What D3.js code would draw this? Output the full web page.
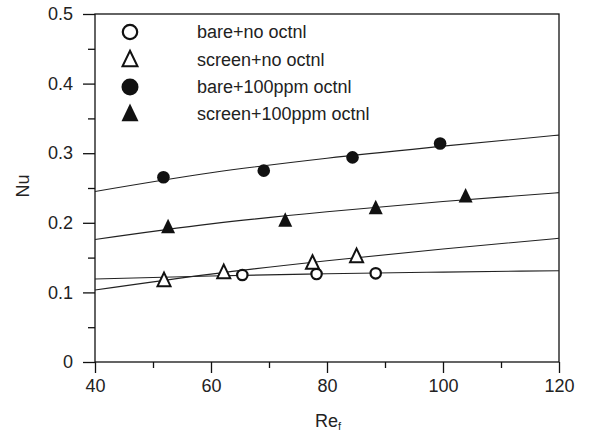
<!DOCTYPE html>
<html>
<head>
<meta charset="utf-8">
<script src="https://cdn.jsdelivr.net/npm/d3@7"></script>
<style>
  body { margin: 0; background: #fff; }
  svg text { font-family: "Liberation Sans", Arial, sans-serif; fill: #222; }
</style>
</head>
<body>
<svg id="chart" width="589" height="435"></svg>
<script>
// measured points
const bareNo = [[65.4, 0.125], [78.2, 0.1264], [88.4, 0.1274]];
const screenNo = [[51.9, 0.1168], [62.2, 0.1283], [77.5, 0.1418], [85.1, 0.1513]];
const bare100 = [[51.8, 0.2654], [69.1, 0.2749], [84.4, 0.294], [99.5, 0.314]];
const screen100 = [[52.6, 0.1935], [72.8, 0.2026], [88.4, 0.2208], [103.9, 0.2375]];

// fitted curves at x = 40..120
const fitX = [40, 60, 80, 100, 120];
const fitBareNo = [0.1193, 0.1236, 0.1267, 0.1292, 0.1312];
const fitScreenNo = [0.1034, 0.1263, 0.1455, 0.1624, 0.1777];
const fitBare100 = [0.245, 0.2719, 0.2928, 0.3101, 0.326];
const fitScreen100 = [0.176, 0.1984, 0.2159, 0.2305, 0.2433];

const legendLabels = ['bare+no octnl', 'screen+no octnl', 'bare+100ppm octnl', 'screen+100ppm octnl'];
const xTicks = [40, 60, 80, 100, 120];
const xMinor = [50, 70, 90, 110];
const yTicks = [0, 0.1, 0.2, 0.3, 0.4, 0.5];
const yMinor = [0.05, 0.15, 0.25, 0.35, 0.45];

const svg = d3.select('#chart');
const [mLeft, mRight, mTop, mBottom] = [95, 559, 14, 362];

const x = d3.scaleLinear().domain([40, 120]).range([mLeft, mRight]);
const y = d3.scaleLinear().domain([0, 0.5]).range([mBottom, mTop]);

// frame
svg.append('rect')
  .attr('x', mLeft).attr('y', mTop)
  .attr('width', mRight - mLeft).attr('height', mBottom - mTop)
  .attr('fill', 'none').attr('stroke', '#111').attr('stroke-width', 1.3);

// fit lines
const line = d3.line().x(d => x(d[0])).y(d => y(d[1])).curve(d3.curveMonotoneX);
[fitBareNo, fitScreenNo, fitBare100, fitScreen100].forEach(vals => {
  svg.append('path')
    .datum(fitX.map((v, i) => [v, vals[i]]))
    .attr('fill', 'none')
    .attr('stroke', '#222')
    .attr('stroke-width', 1.1)
    .attr('d', line);
});

// axes
svg.append('g')
  .attr('transform', `translate(${mLeft},0)`)
  .call(d3.axisLeft(y).tickValues(yTicks).tickSize(12).tickSizeOuter(0).tickPadding(10)
    .tickFormat(d => d === 0 ? '0' : d3.format('.1f')(d)));
svg.append('g')
  .attr('transform', `translate(${mLeft},0)`)
  .call(d3.axisLeft(y).tickValues(yMinor).tickSize(7).tickSizeOuter(0).tickFormat(''));
svg.append('g')
  .attr('transform', `translate(0,${mBottom})`)
  .call(d3.axisBottom(x).tickValues(xTicks).tickSize(11).tickSizeOuter(0).tickPadding(6));
svg.append('g')
  .attr('transform', `translate(0,${mBottom})`)
  .call(d3.axisBottom(x).tickValues(xMinor).tickSize(6).tickSizeOuter(0).tickFormat(''));
svg.selectAll('.domain').remove();
svg.selectAll('.tick line').attr('stroke', '#111').attr('stroke-width', 1.3);
svg.selectAll('.tick text').attr('font-size', 18).attr('fill', '#222');

// markers
const triangle = (cx, cy, s) =>
  `M${cx},${cy - s * 0.62} L${cx + s / 2},${cy + s * 0.42} L${cx - s / 2},${cy + s * 0.42} Z`;

const drawCircle = (g, cx, cy, r, filled) => g.append('circle')
  .attr('cx', cx).attr('cy', cy).attr('r', r)
  .attr('fill', filled ? '#111' : '#fff')
  .attr('stroke', '#111').attr('stroke-width', filled ? 0 : 2.2);
const drawTri = (g, cx, cy, s, filled) => g.append('path')
  .attr('d', triangle(cx, cy, s))
  .attr('fill', filled ? '#111' : '#fff')
  .attr('stroke', '#111').attr('stroke-width', filled ? 0 : 2)
  .attr('stroke-linejoin', 'miter');

const pts = svg.append('g');
bareNo.forEach(d => drawCircle(pts, x(d[0]), y(d[1]), 5.2, false));
screenNo.forEach(d => drawTri(pts, x(d[0]), y(d[1]), 13, false));
bare100.forEach(d => drawCircle(pts, x(d[0]), y(d[1]), 6.3, true));
screen100.forEach(d => drawTri(pts, x(d[0]), y(d[1]), 14, true));

// legend
const lg = svg.append('g');
const rowY = [32, 60, 87, 114];
drawCircle(lg, 130, rowY[0], 7.2, false);
drawTri(lg, 130, rowY[1], 15, false);
drawCircle(lg, 130, rowY[2], 8.5, true);
drawTri(lg, 130, rowY[3], 17, true);
legendLabels.forEach((t, i) => {
  lg.append('text')
    .attr('x', 197).attr('y', rowY[i] + 6)
    .attr('font-size', 18)
    .text(t);
});

// axis titles
svg.append('text')
  .attr('transform', 'translate(29,186) rotate(-90)')
  .attr('text-anchor', 'middle')
  .attr('font-size', 18)
  .text('Nu');
const xt = svg.append('text')
  .attr('x', 328).attr('y', 427)
  .attr('text-anchor', 'middle')
  .attr('font-size', 18);
xt.append('tspan').text('Re');
xt.append('tspan').attr('font-size', 11).attr('dy', 3).text('f');
</script>
</body>
</html>
